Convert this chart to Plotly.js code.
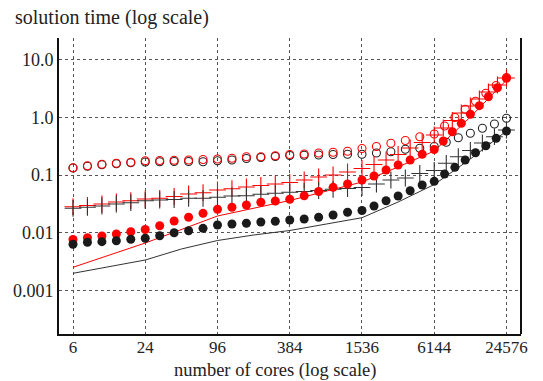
<!DOCTYPE html>
<html>
<head>
<meta charset="utf-8">
<script src="https://cdn.plot.ly/plotly-3.0.1.min.js"></script>
<style>html,body{margin:0;padding:0;background:#fff;}#chart{width:543px;height:381px;}</style>
</head>
<body>
<div id="chart"></div>
<script>
// ---- data ----
const xTickVals = [6, 24, 96, 384, 1536, 6144, 24576];
const xTickText = ["6", "24", "96", "384", "1536", "6144", "24576"];
const yTickVals = [0.001, 0.01, 0.1, 1, 10];
const yTickText = ["0.001", "0.01", "0.1", "1.0", "10.0"];

// red filled circles
const redFilledX = [6, 7.917, 10.447, 13.785, 18.19, 24, 31.67, 41.79, 55.14, 72.75, 96, 126.7, 167.2, 220.6, 291.0, 384, 506.7, 668.6, 882.2, 1164.1, 1536,
  1935.2, 2438.2, 3072, 3870.5, 4876.5, 6144,
  7306.5, 8689, 10333, 12288, 14613, 17378, 20666, 24576];
const redFilledY = [0.00769, 0.00826, 0.00884, 0.00957, 0.01049, 0.01145, 0.01327, 0.01606, 0.01862, 0.02183, 0.0257, 0.02773, 0.0304, 0.03384, 0.03564, 0.03828, 0.04384, 0.05204, 0.0615, 0.07015, 0.08228,
  0.0965, 0.1226, 0.1495, 0.1825, 0.2291, 0.2773,
  0.389, 0.5633, 0.787, 1.127, 1.588, 2.272, 3.252, 4.728];

// black filled circles
const blackFilledX = [6, 7.917, 10.447, 13.785, 18.19, 24, 31.67, 41.79, 55.14, 72.75, 96, 126.7, 167.2, 220.6, 291.0, 384, 506.7, 668.6, 882.2, 1164.1, 1536,
  1935.2, 2438.2, 3072, 3870.5, 4876.5, 6144,
  7489.6, 9129.9, 11129.5, 13567, 16538, 20160, 24576];
const blackFilledY = [0.006351, 0.006879, 0.007046, 0.007332, 0.00775, 0.008065, 0.008947, 0.01008, 0.01092, 0.01201, 0.0137, 0.01426, 0.01466, 0.01544, 0.01588, 0.01672, 0.0174, 0.01862, 0.0204, 0.02272, 0.02441,
  0.0292, 0.03607, 0.04349, 0.05372, 0.06741, 0.07811,
  0.1045, 0.1364, 0.1825, 0.244, 0.3226, 0.4331, 0.5794];

// red open circles
const redOpenX = [6, 7.917, 10.447, 13.785, 18.19, 24, 31.67, 41.79, 55.14, 72.75, 96, 126.7, 167.2, 220.6, 291.0, 384, 506.7, 668.6, 882.2, 1164.1, 1536, 2026.8, 2674.4, 3528.9, 4656.4, 6144,
  7489.6, 9129.9, 11129.5, 13567, 16538, 20160, 24576];
const redOpenY = [0.1343, 0.1454, 0.1538, 0.16, 0.1665, 0.1775, 0.1789, 0.1804, 0.1825, 0.1862, 0.1899, 0.1953, 0.2081, 0.2081, 0.2166, 0.2272, 0.2317, 0.2412, 0.248, 0.2581, 0.2885, 0.3125, 0.3549, 0.3968, 0.4618, 0.5141,
  0.7069, 0.992, 1.375, 1.891, 2.602, 3.549, 4.882];

// black open circles
const blackOpenX = [6, 7.917, 10.447, 13.785, 18.19, 24, 31.67, 41.79, 55.14, 72.75, 96, 126.7, 167.2, 220.6, 291.0, 384, 506.7, 668.6, 882.2, 1164.1, 1536, 2026.8, 2674.4, 3528.9, 4656.4, 6144,
  7740.8, 9752.7, 12288, 15481.6, 19505.4, 24576];
const blackOpenY = [0.1327, 0.142, 0.1513, 0.1575, 0.1639, 0.1685, 0.1705, 0.1719, 0.1719, 0.1705, 0.1775, 0.1825, 0.1937, 0.2016, 0.2098, 0.2183, 0.2201, 0.2228, 0.2272, 0.2291, 0.2291, 0.2412, 0.254, 0.2795, 0.2909, 0.3125,
  0.3694, 0.4437, 0.5287, 0.6452, 0.7658, 0.961];

// red plus
const redPlusX = [6, 7.917, 10.447, 13.785, 18.19, 24, 31.67, 41.79, 55.14, 72.75, 96, 126.7, 167.2, 220.6, 291.0, 384, 506.7, 668.6, 882.2, 1164.1, 1536,
  1935.2, 2438.2, 3072, 3870.5, 4876.5, 6144,
  7306.5, 8689, 10333, 12288, 14613, 17378, 20666, 24576];
const redPlusY = [0.0284, 0.02979, 0.03162, 0.03424, 0.03607, 0.03859, 0.03968, 0.04264, 0.0471, 0.0496, 0.05525, 0.05816, 0.06224, 0.06608, 0.07015, 0.07447, 0.08228, 0.0927, 0.1004, 0.1131, 0.13,
  0.1526, 0.1825, 0.2272, 0.2943, 0.3664, 0.494,
  0.6529, 0.8805, 1.187, 1.569, 2.073, 2.74, 3.622, 4.785];

// black plus
const blackPlusX = [6, 7.917, 10.447, 13.785, 18.19, 24, 31.67, 41.79, 55.14, 72.75, 96, 126.7, 167.2, 220.6, 291.0, 384, 506.7, 668.6, 882.2, 1164.1, 1536, 2026.8, 2674.4, 3528.9, 4656.4, 6144,
  7740.8, 9752.7, 12288, 15481.6, 19505.4, 24576];
const blackPlusY = [0.02665, 0.02773, 0.0292, 0.03162, 0.03331, 0.03607, 0.03709, 0.03784, 0.03968, 0.03968, 0.04129, 0.04349, 0.04401, 0.04654, 0.04844, 0.05041, 0.05204, 0.05416, 0.0568, 0.05864, 0.06102, 0.07015, 0.08228, 0.08912, 0.1066, 0.1201,
  0.16, 0.2081, 0.2665, 0.3592, 0.4618, 0.6031];

// red line
const redLineX = [6, 24, 96, 384, 1536, 3072, 6144, 12288, 24576];
const redLineY = [0.00254, 0.006689, 0.01961, 0.03636, 0.07598, 0.1381, 0.2612, 1.012, 4.418];

// black line
const blackLineX = [6, 24, 48, 96, 192, 384, 1536, 3072, 6144, 12288, 24576];
const blackLineY = [0.002, 0.003397, 0.005266, 0.007388, 0.009198, 0.011, 0.01832, 0.03424, 0.06878, 0.1899, 0.5794];

// ---- chart ----
const RED = '#ff0000', BLK = '#1a1a1a';
const traces = [
  {x: redLineX, y: redLineY, mode: 'lines', line: {color: RED, width: 1}},
  {x: blackLineX, y: blackLineY, mode: 'lines', line: {color: '#333', width: 1}},
  {x: blackOpenX, y: blackOpenY, mode: 'markers', marker: {symbol: 'circle-open', size: 8, color: '#222', line: {width: 1.1}}},
  {x: redOpenX, y: redOpenY, mode: 'markers', marker: {symbol: 'circle-open', size: 8, color: RED, line: {width: 1.1}}},
  {x: redPlusX, y: redPlusY, mode: 'markers', marker: {symbol: 'cross-thin', size: 12, color: RED, line: {width: 1.1, color: RED}}},
  {x: blackPlusX, y: blackPlusY, mode: 'markers', marker: {symbol: 'cross-thin', size: 12, color: '#333', line: {width: 1.1, color: '#333'}}},
  {x: redFilledX, y: redFilledY, mode: 'markers', marker: {symbol: 'circle', size: 9, color: RED}},
  {x: blackFilledX, y: blackFilledY, mode: 'markers', marker: {symbol: 'circle', size: 9, color: BLK}}
];

const FONT = 'Liberation Serif, Times New Roman, serif';
const layout = {
  width: 543, height: 381,
  margin: {l: 59, r: 22, t: 38, b: 47},
  paper_bgcolor: '#fff', plot_bgcolor: '#fff',
  showlegend: false,
  font: {family: FONT, size: 18, color: '#222'},
  title: {text: 'solution time (log scale)', x: 15/543, xanchor: 'left', xref: 'container',
          y: 1 - 17/381, yref: 'container', yanchor: 'middle', font: {family: FONT, size: 20, color: '#222'}},
  xaxis: {type: 'log', range: [0.6615, 4.5115], tickvals: xTickVals, ticktext: xTickText,
          showline: true, linecolor: '#111', linewidth: 2, ticks: '', showgrid: true,
          gridcolor: '#555', griddash: 'dot', gridwidth: 1, zeroline: false, ticklabelstandoff: -3,
          tickfont: {family: FONT, size: 17, color: '#222'}},
  yaxis: {type: 'log', range: [-3.749, 1.372], tickvals: yTickVals, ticktext: yTickText,
          showline: true, linecolor: '#111', linewidth: 2, ticks: '', showgrid: true,
          gridcolor: '#555', griddash: 'dot', gridwidth: 1, zeroline: false,
          tickfont: {family: FONT, size: 18, color: '#222'}},
  shapes: [{type: 'line', xref: 'paper', yref: 'paper', x0: 1, x1: 1, y0: 0, y1: 1, line: {color: '#111', width: 2}}],
  annotations: [{text: 'number of cores (log scale)', xref: 'paper', yref: 'paper', x: (275-59)/462, y: 0,
                 xanchor: 'center', yanchor: 'middle', yshift: -36.5, showarrow: false,
                 font: {family: FONT, size: 18.5, color: '#222'}}]
};
Plotly.newPlot('chart', traces, layout, {displayModeBar: false, staticPlot: true});
</script>
</body>
</html>
